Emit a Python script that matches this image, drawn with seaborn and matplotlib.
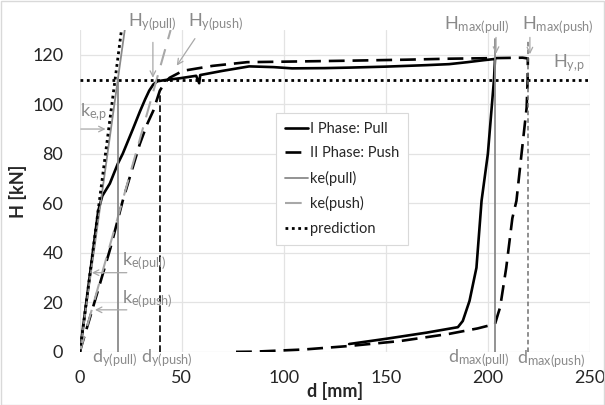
import matplotlib
matplotlib.use("Agg")
import matplotlib.pyplot as plt
from matplotlib.patches import Rectangle
import seaborn as sns

# ---- data ----
pull_d = [0, 3, 6, 9, 11, 14.7, 18.6, 21, 23, 26, 29.4, 32, 34, 36, 38, 42, 49, 57, 58.5, 59, 70,
          83, 95, 104, 120, 132, 150, 170, 181, 190, 198, 203.5,
          203, 200, 196.9, 194.4, 191, 187.7, 185.3, 170, 150, 132]
pull_h = [0, 19, 38, 57, 63, 68, 76, 80, 84, 90, 97, 102, 105.5, 108, 109.3, 109.8, 110.5, 111.5, 108.5, 111.8, 113.5,
          115.3, 115, 114.5, 114.6, 114.8, 115.2, 115.8, 116.2, 117, 117.8, 118.3,
          110, 80, 61, 34, 20.6, 12.5, 10, 7.8, 5.3, 3.2]

push_d = [0, 1, 5, 10, 15, 21, 25, 29.4, 33, 36, 39.2, 41.7, 44, 50.5, 65, 82, 100, 132, 160, 181, 200, 217, 219.6,
          219.5, 219, 216.5, 214, 212, 209, 206, 205, 203.5, 195, 181, 157, 132, 110, 85, 73]
push_h = [0, 3, 14, 28, 42, 61, 72, 84, 92, 97.4, 105.5, 108.8, 110.7, 113.5, 115.5, 117, 117.2, 117.6, 118, 118.4, 118.6, 118.8, 118.5,
          110, 98.6, 80, 61, 54, 34, 18, 15.4, 11.3, 9.5, 7.3, 4.4, 2.4, 1.0, 0.1, 0]

ke_pull_d = [0, 22]
ke_pull_h = [0, 130]
ke_push_d = [0, 44.5]
ke_push_h = [0, 130]
pred_d = [0, 20.4]
pred_h = [0, 130]
H_yp = 110

d_y_pull, d_y_push = 18.8, 39.2
d_max_pull, d_max_push = 203.5, 219.6

x_ticks = [0, 50, 100, 150, 200, 250]
y_ticks = [0, 20, 40, 60, 80, 100, 120]

GRAY = "#8a8a8a"
LGRAY = "#a8a8a8"

sns.set_style("whitegrid")
plt.rcParams["font.family"] = ["Lato", "DejaVu Sans"]
plt.rcParams["mathtext.fontset"] = "custom"
plt.rcParams["mathtext.rm"] = "Lato"
plt.rcParams["mathtext.it"] = "Lato"

fig = plt.figure(figsize=(6.05, 4.05), dpi=100)
ax = fig.add_axes([0.132, 0.131, 0.843, 0.795])

sns.lineplot(x=pull_d, y=pull_h, sort=False, estimator=None, color="black", lw=1.9, ax=ax,
             label="I Phase: Pull")
sns.lineplot(x=push_d, y=push_h, sort=False, estimator=None, color="black", lw=1.9, ax=ax,
             linestyle=(0, (6, 3)), label="II Phase: Push")
sns.lineplot(x=ke_pull_d, y=ke_pull_h, sort=False, estimator=None, color=GRAY, lw=1.3, ax=ax,
             label="ke(pull)")
sns.lineplot(x=ke_push_d, y=ke_push_h, sort=False, estimator=None, color=LGRAY, lw=1.5, ax=ax,
             linestyle=(0, (8, 5)), label="ke(push)")
sns.lineplot(x=pred_d, y=pred_h, sort=False, estimator=None, color="black", lw=2, ax=ax,
             linestyle=(0, (1, 1.3)), label="prediction")
ax.plot([0, 250], [H_yp, H_yp], color="black", lw=2, linestyle=(0, (1, 1.3)))

# reference verticals
ax.plot([d_y_pull, d_y_pull], [0, 110], color=GRAY, lw=1.3)
ax.plot([d_y_push, d_y_push], [0, 105], color="black", lw=1.2, linestyle=(0, (4, 2)))
ax.plot([d_max_pull, d_max_pull], [0, 126.5], color=GRAY, lw=1.3)
ax.plot([d_max_push, d_max_push], [0, 126.5], color="#707070", lw=1.1, linestyle=(0, (3, 2)))

ax.set_xlim(0, 250)
ax.set_ylim(0, 130)
ax.set_xticks(x_ticks)
ax.set_yticks(y_ticks)
ax.tick_params(axis="x", labelsize=13, pad=13, length=0)
ax.tick_params(axis="y", labelsize=13, pad=12, length=0)
ax.grid(True, color="#e3e3e3", lw=0.9)
for s in ax.spines.values():
    s.set_visible(False)

ax.set_xlabel("d [mm]", fontsize=13, fontweight="bold", labelpad=-3)
ax.set_ylabel("H [kN]", fontsize=13, fontweight="bold", labelpad=4)

# annotations
tkw = dict(color=GRAY, fontsize=13, clip_on=False)
akw = dict(arrowstyle="->", color=LGRAY, lw=0.9, shrinkA=0, shrinkB=0)
ax.text(23.5, 133, r"$\mathrm{H_{y(pull)}}$", ha="left", va="center", **tkw)
ax.annotate("", xy=(35.8, 110.7), xytext=(35.8, 125), arrowprops=akw, annotation_clip=False)
ax.text(53, 133, r"$\mathrm{H_{y(push)}}$", ha="left", va="center", **tkw)
ax.annotate("", xy=(47.5, 115.6), xytext=(56.4, 126.5), arrowprops=akw, annotation_clip=False)
ax.text(0.3, 96.6, r"$\mathrm{k_{e{,}p}}$", ha="left", va="center", **tkw)
ax.annotate("", xy=(12.6, 90), xytext=(0.5, 90), arrowprops=akw, annotation_clip=False)
ax.text(20.5, 36.8, r"$\mathrm{k_{e(pull)}}$", ha="left", va="center", **tkw)
ax.annotate("", xy=(5.9, 32), xytext=(23, 32), arrowprops=akw, annotation_clip=False)
ax.text(20.5, 21.4, r"$\mathrm{k_{e(push)}}$", ha="left", va="center", **tkw)
ax.annotate("", xy=(7.4, 17), xytext=(23, 17), arrowprops=akw, annotation_clip=False)
ax.text(6.0, -2.6, r"$\mathrm{d_{y(pull)}}$", ha="left", va="center", **tkw)
ax.text(30, -2.6, r"$\mathrm{d_{y(push)}}$", ha="left", va="center", **tkw)
ax.text(178.5, 132, r"$\mathrm{H_{max(pull)}}$", ha="left", va="center", **tkw)
ax.annotate("", xy=(204, 120.4), xytext=(204, 127), arrowprops=akw, annotation_clip=False)
ax.text(216.5, 132, r"$\mathrm{H_{max(push)}}$", ha="left", va="center", **tkw)
ax.annotate("", xy=(220.6, 120.2), xytext=(220.6, 127), arrowprops=akw, annotation_clip=False)
ax.text(232, 116.4, r"$\mathrm{H_{y{,}p}}$", ha="left", va="center", **tkw)
ax.text(180.5, -2.6, r"$\mathrm{d_{max(pull)}}$", ha="left", va="center", **tkw)
ax.text(214.5, -3.0, r"$\mathrm{d_{max(push)}}$", ha="left", va="center", **tkw)

leg = ax.legend(loc="upper left", bbox_to_anchor=(0.37, 0.765), fontsize=10.5, frameon=True,
                fancybox=False, framealpha=1, edgecolor="#d9d9d9", handlelength=1.6,
                handletextpad=0.15, labelspacing=0.72, borderpad=0.6)
leg.get_frame().set_linewidth(0.8)

fig.add_artist(Rectangle((0.001, 0.001), 0.998, 0.997, transform=fig.transFigure, fill=False,
                         edgecolor="#d9d9d9", lw=1))

fig.savefig("out.png", dpi=100)
